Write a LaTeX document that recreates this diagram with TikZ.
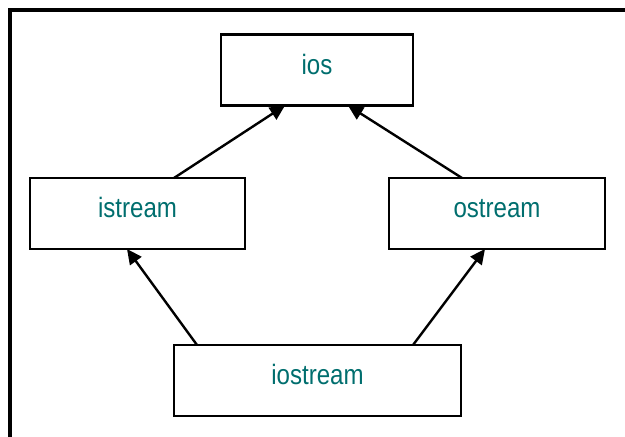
\documentclass[tikz,border=0pt]{standalone}
\usepackage{fontspec}
\newfontfamily\lblfont[FakeStretch=0.86]{Liberation Sans}
\usetikzlibrary{arrows.meta}
\definecolor{teal1}{RGB}{0,110,110}
\begin{document}
\begin{tikzpicture}[x=1pt,y=1pt,
  cls/.style={draw=black, line width=2.4pt, rectangle, minimum height=71pt,
    inner sep=0pt, outer sep=0pt, text=teal1,
    font=\lblfont\fontsize{28}{32}\selectfont, text height=18pt, text depth=9pt},
  arr/.style={line width=2.4pt, -{Triangle[length=15pt,width=14pt]}}]
\useasboundingbox (0,0) rectangle (625,437);
\begin{scope}
\clip (0,0) rectangle (625,437);
\draw[line width=3.8pt] (10,427) rectangle (660,-30);
\end{scope}
\node[cls, minimum width=192pt] (ios) at (317,367) {ios};
\node[cls, minimum width=215pt] (istream) at (137.5,223.5) {istream};
\node[cls, minimum width=216pt] (ostream) at (497,223.5) {ostream};
\node[cls, minimum width=287pt] (iostream) at (317.5,56.5) {iostream};
\draw[arr] ([xshift=144pt]istream.north west) -- ([xshift=64pt]ios.south west);
\draw[arr] ([xshift=73pt]ostream.north west) -- ([xshift=127pt]ios.south west);
\draw[arr] ([xshift=23pt]iostream.north west) -- ([xshift=97pt]istream.south west);
\draw[arr] ([xshift=239pt]iostream.north west) -- ([xshift=96pt]ostream.south west);
\end{tikzpicture}
\end{document}
